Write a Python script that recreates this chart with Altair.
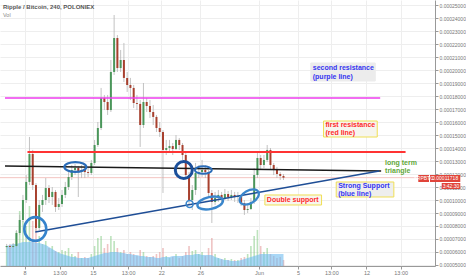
import altair as alt
import pandas as pd

# ---------------- data (prices in satoshi = 1e-8 BTC) ----------------
first_open = 6385
close_sats = [6460, 6390, 6460, 7460, 8460, 10000, 11390, 13540, 11150, 7850,
              9620, 10000, 10920, 10230, 10620, 9460, 9690, 10390, 11000, 11770,
              12310, 12460, 12150, 12310, 12150, 12080, 12850, 14230, 15540, 17850,
              17540, 16920, 19850, 22460, 20150, 20770, 19390, 18850, 18620, 17460,
              17390, 15770, 17540, 17230, 16770, 16390, 15540, 15230, 13850, 14000,
              14150, 13920, 14620, 14230, 13460, 11920, 10000, 10770, 12080, 12150,
              12310, 12150, 10540, 9850, 10150, 10390, 10150, 10460, 10230, 10390,
              10230, 10310, 9770, 9230, 9310, 9850, 11920, 13230, 12690, 13080,
              13850, 12690, 12310, 12000, 11850, 11718]
high_sats = [6620, 6620, 6690, 7690, 8850, 10390, 11920, 14850, 13850, 11300,
             10000, 10390, 11690, 11150, 11000, 10770, 10150, 10770, 11390, 12150,
             12690, 12770, 12620, 12690, 12540, 12460, 13080, 14620, 16000, 18620,
             18080, 18080, 20770, 24230, 22690, 21540, 22080, 19850, 19390, 18850,
             18080, 17690, 19000, 17850, 17690, 17310, 16540, 16000, 15380, 14620,
             14620, 14380, 15000, 14770, 14380, 13620, 12150, 11150, 12850, 12690,
             13080, 12690, 12310, 10770, 10620, 10770, 10620, 10850, 10690, 10770,
             10620, 10620, 10390, 10000, 9690, 10150, 12460, 13620, 13460, 13460,
             14230, 14000, 12850, 12540, 12150, 12000]
low_sats = [6310, 6230, 6310, 6390, 7310, 8310, 9770, 11150, 10770, 7540,
            7690, 9080, 9620, 9770, 9620, 9080, 9230, 9460, 10150, 10770,
            11540, 11920, 10230, 11690, 11690, 11770, 11920, 12690, 14080, 15380,
            16920, 16540, 16770, 19620, 19850, 19850, 19080, 18310, 17690, 17080,
            16920, 14080, 15540, 16770, 16310, 15770, 15230, 14850, 10540, 13460,
            13690, 13460, 13850, 13850, 13080, 11540, 9620, 9230, 10390, 11690,
            11770, 11690, 10150, 8230, 9620, 9850, 9770, 10000, 9920, 10000,
            9850, 9770, 9540, 8850, 9000, 9230, 9690, 11690, 12310, 12460,
            12920, 12310, 11920, 11690, 11540, 11540]
volume = [20, 18, 22, 35, 55, 45, 40, 60, 45, 40,
          30, 22, 25, 18, 20, 15, 14, 16, 15, 18,
          12, 10, 14, 8, 9, 8, 12, 20, 28, 30,
          18, 22, 30, 25, 18, 14, 16, 12, 14, 12,
          10, 16, 14, 10, 9, 10, 12, 14, 18, 10,
          8, 9, 12, 8, 10, 14, 20, 15, 16, 12,
          14, 10, 18, 28, 12, 8, 7, 8, 6, 7,
          6, 6, 8, 9, 12, 20, 30, 36, 20, 14,
          18, 12, 10, 8, 9, 6]
volume_ma = [20, 21, 22, 22, 23, 24, 24, 24, 24, 23, 23, 22, 21,
             19, 17, 15, 13, 12, 11,
             10, 9, 9, 8, 8, 8, 8,
             9, 10, 11, 12, 13, 13, 14, 14,
             14, 13, 13, 12, 12, 11, 11,
             10, 10, 9, 9, 9, 8, 8,
             9, 9, 9, 10, 10, 10, 10, 11,
             11, 11, 12, 12, 11, 11, 11, 11,
             9, 8, 7, 6, 6, 5, 5, 5,
             6, 7, 8, 9, 10, 11, 12, 12,
             12, 12, 12, 12, 12, 12]

start_day = 6.17          # first 8h candle (day of May)
step_day = 1 / 3

x_tick_days = [8, 11.6, 15, 18.6, 22, 26, 32, 36, 39.4, 43, 46.5]
x_tick_labels = ["8", "13:00", "15", "13:00", "22", "26", "Jun", "5", "13:00", "12", "13:00"]

# drawn trend lines
line_day_start = [6.0, 8.3, 6.0, 9.1]
line_day_end = [44.4, 47.0, 44.5, 44.3]
line_p_start = [17846, 13693, 12616, 7539]
line_p_end = [17846, 13693, 12231, 12231]

# ellipse annotations (centers)
ell_day = [9.1, 13.2, 24.3, 26.3, 24.9, 27.0, 31.0]
ell_price = [7770, 12539, 12308, 12308, 9693, 9770, 10231]

# text annotations
note_text = ["second resistance", "(purple line)", "first resistance", "(red line)",
             "long term", "triangle", "Strong Support", "(blue line)", "Double support"]
note_day = [37.5, 37.5, 38.8, 38.8, 44.9, 44.9, 40.1, 40.1, 32.8]
note_price = [20154, 19462, 15770, 15154, 12847, 12231, 11077, 10462, 10000]

box_day_start = [37.3, 38.6, 39.9, 32.6]
box_day_end = [43.9, 44.1, 45.8, 38.4]
box_top = [20539, 16077, 11385, 10385]
box_bottom = [19154, 14846, 10231, 9616]

# price tag boxes
tag_day_start = [48.3, 49.5, 50.7]
tag_day_end = [49.4, 52.6, 52.6]
tag_top = [11923, 11923, 11308]
tag_bottom = [11385, 11385, 10846]
countdown = "3:42:30"

# ---------------- styles ----------------
FONT = "Liberation Sans"
UP, DOWN = "#4a965a", "#a8402e"
line_colors = ["#ee3cee", "#ff3333", "#1a1a1a", "#1f4e96"]
line_widths = [1.6, 1.8, 1.5, 1.5]
ell_w = [22, 22, 17, 17, 7, 26, 21]
ell_ratio = [1.08, 0.45, 1.0, 0.45, 1.0, 0.46, 0.6]
ell_angle = [0, 0, 0, 0, 0, 348, 330]
ell_sw = [2.6, 2.2, 3.0, 2.0, 1.5, 2.4, 2.2]
ell_col = ["#3583cc", "#2a6cb8", "#1c4f9a", "#2a6cb8", "#3a86cc", "#3a86cc", "#3a86cc"]
note_col = ["#3535f0", "#3535f0", "#ff2a2a", "#ff2a2a", "#5fa83a", "#5fa83a",
            "#3535f0", "#3535f0", "#ff2a2a"]
box_fill = ["#ececec", "#f6f5ee", "#eeeeee", "#f7f6ee"]
box_stroke = ["#ececec", "#f0df55", "#f0df55", "#f0df55"]

S = 1e-8
n = len(close_sats)
open_sats = [first_open] + close_sats[:-1]
df = pd.DataFrame({
    "day": [start_day + i * step_day for i in range(n)],
    "open": [v * S for v in open_sats],
    "close": [v * S for v in close_sats],
    "high": [v * S for v in high_sats],
    "low": [v * S for v in low_sats],
    "vol": volume,
    "vol_ma": volume_ma,
})
df["dir"] = ["up" if c >= o else "down" for c, o in zip(df["close"], df["open"])]

W, H = 435, 266
ydom = [4923 * S, 25385 * S]
xscale = alt.Scale(domain=[6, 49.5], nice=False, zero=False)
yscale = alt.Scale(domain=ydom, nice=False, zero=False)

label_expr = ("[" + ",".join(f"'{l}'" for l in x_tick_labels) + "][indexof(["
              + ",".join(str(d) for d in x_tick_days) + "], datum.value)]")

xaxis = alt.Axis(values=x_tick_days, labelExpr=label_expr, title=None, grid=True,
                 gridColor="#eeeeee", domainColor="#999999", tickColor="#999999",
                 tickSize=3, labelFontSize=5.5, labelColor="#777777", labelFont=FONT,
                 labelPadding=1, labelOverlap=False, zindex=0)
yaxis = alt.Axis(orient="right", values=[v * S for v in range(5000, 25001, 1000)],
                 format=".8f", title=None, grid=True, gridColor="#eeeeee",
                 domainColor="#999999", tickColor="#999999", tickSize=3,
                 labelFontSize=5, labelColor="#777777", labelFont=FONT, labelPadding=1,
                 labelOverlap=False, zindex=0)

X = alt.X("day:Q", scale=xscale, axis=xaxis)
base = alt.Chart(df)

# volume group
vscale = alt.Scale(domain=[0, H], nice=False, zero=True)
vol_bars = base.mark_bar(size=1.6, opacity=0.5).encode(
    x=X,
    y=alt.Y("vol:Q", scale=vscale, axis=None),
    color=alt.condition("datum.dir == 'up'", alt.value("#7cc77c"), alt.value("#e08a8a")),
)
vol_area = base.mark_area(color="#6fbdf0", opacity=0.6).encode(
    x=X,
    y=alt.Y("vol_ma:Q", scale=vscale, axis=None),
)
vol_group = alt.layer(vol_bars, vol_area)

# price group
price_layers = []
price_line = alt.Chart(pd.DataFrame({"p": [close_sats[-1] * S]})).mark_rule(
    color="#f4c4c0", strokeWidth=1).encode(
    y=alt.Y("p:Q", scale=yscale, axis=yaxis))
price_layers.append(price_line)

wicks = base.mark_rule(color="#b4b4b4", strokeWidth=0.8).encode(
    x=X, y=alt.Y("low:Q", scale=yscale, axis=yaxis), y2="high:Q")
bodies = base.mark_bar(size=2).encode(
    x=X, y=alt.Y("open:Q", scale=yscale, axis=yaxis), y2="close:Q",
    color=alt.condition("datum.dir == 'up'", alt.value(UP), alt.value(DOWN)))
price_layers += [wicks, bodies]

for i in range(len(line_day_start)):
    ld = pd.DataFrame({"d1": [line_day_start[i]], "d2": [line_day_end[i]],
                       "p1": [line_p_start[i] * S], "p2": [line_p_end[i] * S]})
    price_layers.append(alt.Chart(ld).mark_rule(
        color=line_colors[i], strokeWidth=line_widths[i]).encode(
        x=alt.X("d1:Q", scale=xscale, axis=xaxis), x2="d2:Q",
        y=alt.Y("p1:Q", scale=yscale, axis=yaxis), y2="p2:Q"))

for i in range(len(ell_day)):
    r = ell_ratio[i]
    path = f"M-1,0A1,{r} 0 1,1 1,0A1,{r} 0 1,1 -1,0Z"
    ed = pd.DataFrame({"d": [ell_day[i]], "p": [ell_price[i] * S]})
    price_layers.append(alt.Chart(ed).mark_point(
        shape=path, size=ell_w[i] ** 2, angle=ell_angle[i], filled=False,
        stroke=ell_col[i], strokeWidth=ell_sw[i], opacity=1).encode(
        x=alt.X("d:Q", scale=xscale, axis=xaxis), y=alt.Y("p:Q", scale=yscale, axis=yaxis)))

bx = pd.DataFrame({"d1": box_day_start, "d2": box_day_end,
                   "p1": [v * S for v in box_top], "p2": [v * S for v in box_bottom],
                   "fill": box_fill, "stroke": box_stroke})
price_layers.append(alt.Chart(bx).mark_rect(strokeWidth=1).encode(
    x=alt.X("d1:Q", scale=xscale, axis=xaxis), x2="d2:Q",
    y=alt.Y("p1:Q", scale=yscale, axis=yaxis), y2="p2:Q",
    fill=alt.Fill("fill:N", scale=None), stroke=alt.Stroke("stroke:N", scale=None)))

nt = pd.DataFrame({"t": note_text, "d": note_day, "p": [v * S for v in note_price],
                   "c": note_col})
price_layers.append(alt.Chart(nt).mark_text(
    align="left", baseline="middle", font=FONT, fontSize=7, fontWeight="bold").encode(
    x=alt.X("d:Q", scale=xscale, axis=xaxis), y=alt.Y("p:Q", scale=yscale, axis=yaxis),
    text="t:N", color=alt.Color("c:N", scale=None)))

tg = pd.DataFrame({"d1": tag_day_start, "d2": tag_day_end,
                   "p1": [v * S for v in tag_top], "p2": [v * S for v in tag_bottom],
                   "dm": [(a + b) / 2 for a, b in zip(tag_day_start, tag_day_end)],
                   "pm": [(a + b) / 2 * S for a, b in zip(tag_top, tag_bottom)],
                   "t": ["XRPBTC", f"{close_sats[-1] * S:.8f}", countdown]})
price_layers.append(alt.Chart(tg).mark_rect(color="#e0443a").encode(
    x=alt.X("d1:Q", scale=xscale, axis=xaxis), x2="d2:Q",
    y=alt.Y("p1:Q", scale=yscale, axis=yaxis), y2="p2:Q"))
price_layers.append(alt.Chart(tg).mark_text(
    color="white", font=FONT, fontSize=5, align="center", baseline="middle").encode(
    x=alt.X("dm:Q", scale=xscale, axis=xaxis), y=alt.Y("pm:Q", scale=yscale, axis=yaxis),
    text="t:N"))

hdr = pd.DataFrame({"t": ["Ripple / Bitcoin, 240, POLONIEX"]})
price_layers.append(alt.Chart(hdr).mark_text(
    align="left", baseline="middle", font=FONT, fontSize=6, fontWeight="bold",
    color="#555555").encode(x=alt.value(3), y=alt.value(7), text="t:N"))
vl = pd.DataFrame({"t": ["Vol"]})
price_layers.append(alt.Chart(vl).mark_text(
    align="left", baseline="middle", font=FONT, fontSize=5.5,
    color="#888888").encode(x=alt.value(3), y=alt.value(15), text="t:N"))

price_group = alt.layer(*price_layers)

chart = alt.layer(vol_group, price_group).resolve_scale(y="independent").properties(
    width=W, height=H,
    autosize=alt.AutoSizeParams(type="none"),
    padding={"left": 0, "top": 0, "right": 31, "bottom": 9},
    background="white",
).configure_view(strokeWidth=0)

chart.save("out.html", embed_options={"renderer": "svg", "actions": False})
